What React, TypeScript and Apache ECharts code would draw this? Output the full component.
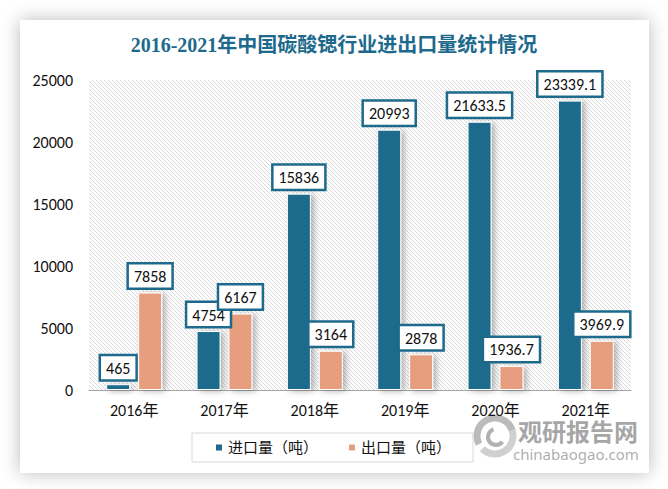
import React, { useEffect, useRef } from "react";
import * as echarts from "echarts";

const categories = ["2016年", "2017年", "2018年", "2019年", "2020年", "2021年"];
const importValues = [465, 4754, 15836, 20993, 21633.5, 23339.1];
const exportValues = [7858, 6167, 3164, 2878, 1936.7, 3969.9];
const seriesNames = ["进口量（吨）", "出口量（吨）"];
const titleText = "2016-2021年中国碳酸锶行业进出口量统计情况";

const BLUE = "#1d6a8c";
const ORANGE = "#e79e7e";
const FONT = 'Carlito, Lato, "Noto Sans CJK SC", sans-serif';

function makeHatch(): HTMLCanvasElement {
  const c = document.createElement("canvas");
  c.width = 4;
  c.height = 4;
  const ctx = c.getContext("2d")!;
  ctx.fillStyle = "#ffffff";
  ctx.fillRect(0, 0, 4, 4);
  ctx.fillStyle = "#d9d9d9";
  for (let i = 0; i < 4; i++) ctx.fillRect(i, i, 1, 1);
  return c;
}

export default function App() {
  const ref = useRef<HTMLDivElement>(null);
  useEffect(() => {
    if (!ref.current) return;
    const chart = echarts.init(ref.current, null, { renderer: "svg" });
    const hatch = makeHatch();
    const labelStyle = {
      show: true,
      position: "top" as const,
      distance: 5,
      backgroundColor: "#ffffff",
      borderColor: BLUE,
      borderWidth: 2.5,
      padding: [4, 5, 3, 5],
      color: "#111",
      fontSize: 16,
      fontFamily: FONT,
    };
    chart.setOption({
      animation: false,
      backgroundColor: "#ffffff",
      graphic: [
        {
          type: "rect",
          z: -10,
          silent: true,
          shape: { x: 20, y: 20, width: 629, height: 453 },
          style: {
            fill: "#ffffff",
            shadowBlur: 18,
            shadowColor: "rgba(0,0,0,0.28)",
            shadowOffsetX: 0,
            shadowOffsetY: 0,
          },
        },
        {
          type: "rect",
          z: -9,
          silent: true,
          shape: { x: 89, y: 80, width: 542, height: 310 },
          style: {
            fill: { image: hatch, repeat: "repeat" } as any,
          },
        },
        {
          type: "text",
          left: "center",
          top: 35,
          style: {
            text: titleText,
            font: 'bold 20px "Liberation Serif", "Noto Sans CJK SC", serif',
            fill: BLUE,
          },
        },
        // watermark logo
        {
          type: "group",
          z: 100,
          silent: true,
          children: [
            {
              type: "arc",
              shape: { cx: 495, cy: 436, r: 18, startAngle: Math.PI * 0.85, endAngle: Math.PI * 1.9 },
              style: { stroke: "rgba(175,175,175,0.85)", lineWidth: 7, fill: "none" },
            },
            {
              type: "arc",
              shape: { cx: 495, cy: 436, r: 18, startAngle: Math.PI * -0.1, endAngle: Math.PI * 0.75 },
              style: { stroke: "rgba(200,200,200,0.85)", lineWidth: 7, fill: "none" },
            },
            {
              type: "arc",
              shape: { cx: 496, cy: 437, r: 8, startAngle: Math.PI * 0.2, endAngle: Math.PI * 1.4 },
              style: { stroke: "rgba(165,165,165,0.85)", lineWidth: 4, fill: "none" },
            },
            {
              type: "text",
              x: 518,
              y: 418,
              style: {
                text: "观研报告网",
                font: 'bold 24px "Noto Sans CJK SC", sans-serif',
                fill: "rgba(150,150,150,0.85)",
              },
            },
            {
              type: "text",
              x: 513,
              y: 446,
              style: {
                text: "chinabaogao.com",
                font: '15px "Noto Sans", sans-serif',
                fill: "rgba(160,160,160,0.85)",
              },
            },
          ],
        },
      ],
      grid: { left: 89, right: 37, top: 80, bottom: 99, containLabel: false },
      legend: {
        data: seriesNames,
        left: 192,
        top: 433,
        width: 285,
        padding: [7, 22, 7, 22],
        borderColor: "#d9d9d9",
        borderWidth: 1,
        itemWidth: 8,
        itemHeight: 8,
        itemGap: 29,
        icon: "rect",
        textStyle: { fontSize: 15, color: "#111", fontFamily: FONT },
      },
      xAxis: {
        type: "category",
        data: categories,
        axisLine: { show: true, lineStyle: { color: "#a6a6a6", width: 1 } },
        axisTick: { show: false },
        axisLabel: { margin: 12, fontSize: 16, color: "#111", fontFamily: FONT },
      },
      yAxis: {
        type: "value",
        min: 0,
        max: 25000,
        interval: 5000,
        axisLine: { show: false },
        axisTick: { show: false },
        splitLine: { show: false },
        axisLabel: {
          margin: 16,
          fontSize: 16,
          color: "#111",
          fontFamily: FONT,
          formatter: (v: number) => String(v),
        },
      },
      series: [
        {
          name: seriesNames[0],
          type: "bar",
          data: importValues,
          barWidth: 24,
          barGap: "33%",
          itemStyle: {
            color: BLUE,
            borderColor: "#ffffff",
            borderWidth: 1,
            shadowBlur: 6,
            shadowOffsetX: 3,
            shadowOffsetY: 1,
            shadowColor: "rgba(0,0,0,0.3)",
          },
          label: labelStyle,
        },
        {
          name: seriesNames[1],
          type: "bar",
          data: exportValues,
          barWidth: 24,
          barGap: "33%",
          itemStyle: {
            color: ORANGE,
            borderColor: "#ffffff",
            borderWidth: 1,
            shadowBlur: 6,
            shadowOffsetX: 3,
            shadowOffsetY: 1,
            shadowColor: "rgba(0,0,0,0.3)",
          },
          label: labelStyle,
        },
      ],
    });
    return () => chart.dispose();
  }, []);
  return (
    <div
      ref={ref}
      style={{ position: "absolute", left: 0, top: 0, width: 668, height: 489 }}
    />
  );
}
